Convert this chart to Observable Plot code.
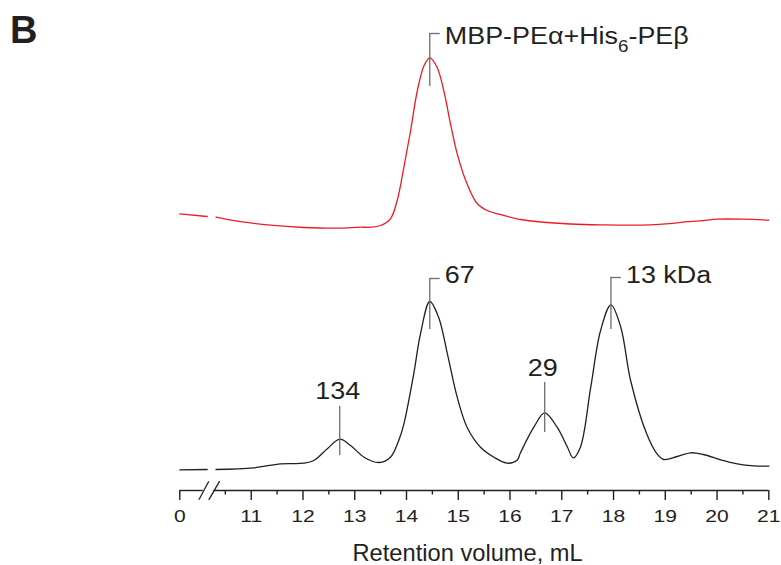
<!DOCTYPE html>
<html>
<head>
<meta charset="utf-8">
<script src="https://cdn.jsdelivr.net/npm/d3@7"></script>
<script src="https://cdn.jsdelivr.net/npm/@observablehq/plot@0.6"></script>
<style>
  body { margin: 0; background: #fff; font-family: "Liberation Sans", Arial, sans-serif; }
  #wrap { position: relative; width: 781px; height: 565px; }
  #panel { position: absolute; left: 10px; top: 11px; font-weight: bold; font-size: 38px; line-height: 1; color: #231f20; }
  #chart { position: absolute; left: 0; top: 0; }
</style>
</head>
<body>
<div id="wrap"><div id="chart"></div><div id="panel">B</div></div>
<script>
// ---- data (retention volume in mL, signal in arbitrary units) ----
// left of the axis break (start of the run)
const blackLeftX = [0, 1];
const blackLeftY = [20.7, 21];
const redLeftX = [0, 1];
const redLeftY = [276.7, 274];

// standards (black trace)
const blackX = [10.32, 11.05, 11.57, 12.02, 12.21, 12.47, 12.71, 12.92, 13.18, 13.47, 13.69, 13.85, 13.95, 14.14, 14.27, 14.45, 14.62, 14.79, 14.98, 15.17, 15.43, 15.69, 15.95, 16.14, 16.20, 16.46, 16.67, 16.91, 17.11, 17.22, 17.36, 17.56, 17.75, 17.95, 18.14, 18.33, 18.64, 18.84, 18.97, 19.23, 19.49, 19.74, 20.07, 20.39, 20.71, 21.0];
const blackY = [21, 22.7, 26.7, 27.3, 30, 41.7, 51.3, 45, 33.3, 28, 33.3, 50, 66.7, 116.7, 156.7, 189, 173.3, 136.7, 93.3, 63.3, 43.3, 33.3, 27.3, 30.5, 37.5, 63.3, 77.7, 63.3, 43.3, 32.7, 43.3, 103.3, 160, 185.7, 163.3, 110, 56.7, 36.7, 31, 34, 37.7, 36, 30.7, 26.7, 24.7, 24.3];

// MBP-PEα + His6-PEβ (red trace)
const redX = [10.32, 10.73, 11.37, 12.02, 12.66, 13.11, 13.31, 13.50, 13.69, 13.82, 13.95, 14.08, 14.21, 14.34, 14.45, 14.59, 14.72, 14.85, 14.98, 15.17, 15.37, 15.56, 15.88, 16.20, 16.59, 17.17, 17.75, 18.71, 19.23, 19.42, 19.60, 19.74, 20.00, 20.52, 21.0];
const redY = [273.3, 269.3, 265.3, 263, 262.3, 263.3, 263.3, 265, 271.7, 290, 323.3, 360, 400, 425, 432.7, 423.3, 400, 366.7, 336.7, 306.7, 286.7, 280, 275, 271, 268.5, 266.5, 265.7, 265.7, 267.7, 268.9, 269.4, 270, 271.3, 271.3, 270.3];

// peak annotations
const labelText = ["134", "67", "29", "13 kDa", "MBP-PEα+His\u2086-PEβ"];
const labelVolume = [12.71, 14.45, 16.67, 17.95, 14.45];
const labelLineLow = [35, 161, 58, 161, 404];
const labelLineHigh = [84, 212, 108, 213, 457];
const labelTextY = [91.5, 208, 115, 208, 446.5];
const labelSide = ["above", "right", "above", "right", "right"];

// axis
const tickValues = [0, 11, 12, 13, 14, 15, 16, 17, 18, 19, 20, 21];
const minorTicks = [10.5, 11.5, 12.5, 13.5, 14.5, 15.5, 16.5, 17.5, 18.5, 19.5, 20.5];
const xTitle = "Retention volume, mL";

// ---- axis break: the first mL of the run is drawn compressed before the break ----
const axisStart = 9.62, leftSpan = 0.53;
const toAxis = v => (v <= 1 ? axisStart + v * leftSpan : v);
const breakGap = [10.073, 10.277];
const breakSlashes = [{x1: 9.99, x2: 10.18}, {x1: 10.18, x2: 10.39}];

const rows = [];
const addSeg = (xs, ys, seg, series) => xs.forEach((x, i) => rows.push({x: toAxis(x), y: ys[i], seg, series}));
addSeg(blackLeftX, blackLeftY, "bL", "black");
addSeg(blackX, blackY, "bR", "black");
addSeg(redLeftX, redLeftY, "rL", "red");
addSeg(redX, redY, "rR", "red");

const labels = labelText.map((t, i) => ({text: t, x: labelVolume[i], lo: labelLineLow[i], hi: labelLineHigh[i], ty: labelTextY[i], side: labelSide[i]}));
const above = labels.filter(d => d.side === "above");
const right = labels.filter(d => d.side === "right");

const ink = "#231f20";
const font = "'Liberation Sans', Arial, sans-serif";

const chart = Plot.plot({
  width: 781,
  height: 565,
  marginLeft: 179.3,
  marginRight: 12.7,
  marginTop: 20,
  marginBottom: 75,
  x: {domain: [toAxis(0), 21], label: null},
  y: {domain: [0, 470], axis: null, label: null},
  style: {fontFamily: font, color: ink, background: "transparent", overflow: "visible"},
  marks: [
    // axis line with break
    Plot.ruleY([0], {x1: toAxis(0), x2: breakGap[0], stroke: ink, strokeWidth: 1.4}),
    Plot.ruleY([0], {x1: breakGap[1], x2: 21, stroke: ink, strokeWidth: 1.4}),
    Plot.link(breakSlashes, {x1: "x1", x2: "x2", y1: -9.3, y2: 9.3, stroke: ink, strokeWidth: 1.3}),
    Plot.axisX(tickValues.map(toAxis), {tickSize: 10, tickPadding: 9, fontSize: 17, stroke: ink, strokeWidth: 1.4, fill: ink,
      tickFormat: d => (d < 10 ? String(tickValues[0]) : String(d)), label: null}),
    Plot.axisX(minorTicks, {tickSize: 4.5, stroke: ink, strokeWidth: 1.4, tickFormat: () => "", label: null}),
    Plot.text([xTitle], {frameAnchor: "bottom", dx: -6.7, dy: 70, lineAnchor: "bottom", fontSize: 23, fill: ink}),
    // traces
    Plot.line(rows.filter(d => d.series === "black"), {x: "x", y: "y", z: "seg", stroke: ink, strokeWidth: 1.3, curve: "catmull-rom"}),
    Plot.line(rows.filter(d => d.series === "red"), {x: "x", y: "y", z: "seg", stroke: "#ed1c24", strokeWidth: 1.3, curve: "catmull-rom"}),
    // annotations
    Plot.ruleX(labels, {x: "x", y1: "lo", y2: "hi", stroke: "#6d6e71", strokeWidth: 1.3}),
    Plot.ruleY(right, {y: "hi", x1: "x", x2: d => d.x + 0.2, stroke: "#6d6e71", strokeWidth: 1.3}),
    Plot.text(above, {x: "x", y: "ty", text: "text", textAnchor: "middle", lineAnchor: "bottom", dx: -2, fontSize: 23, fill: ink}),
    Plot.text(right, {x: "x", y: "ty", text: "text", textAnchor: "start", lineAnchor: "bottom", dx: 15, fontSize: 23, fill: ink})
  ]
});
document.getElementById("chart").appendChild(chart);

// ---- typographic touch-ups: horizontally wide lettering and a true subscript ----
function stretch(el, s) {
  const t = el.getAttribute("transform");
  if (t) el.setAttribute("transform", t + ` scale(${s},1)`);
  else {
    const x = +(el.getAttribute("x") || 0), y = +(el.getAttribute("y") || 0);
    el.removeAttribute("x"); el.removeAttribute("y");
    el.setAttribute("transform", `translate(${x},${y}) scale(${s},1)`);
  }
}
const svg = d3.select(chart);
const tickStrings = new Set(tickValues.map(String));
const labelStrings = new Set(labelText);
svg.selectAll("text").each(function() {
  const s = this.textContent;
  if (tickStrings.has(s)) stretch(this, 1.24);
  else if (labelStrings.has(s)) stretch(this, 1.17);
  else if (s === xTitle) stretch(this, 1.03);
});
svg.selectAll("text").each(function() {
  const s = this.textContent;
  const k = s.indexOf("\u2086");
  if (k < 0) return;
  const el = d3.select(this);
  el.text(null);
  el.append("tspan").text(s.slice(0, k));
  el.append("tspan").attr("font-size", 16).attr("dy", 8).text("6");
  el.append("tspan").attr("dy", -8).text(s.slice(k + 1));
});
</script>
</body>
</html>
